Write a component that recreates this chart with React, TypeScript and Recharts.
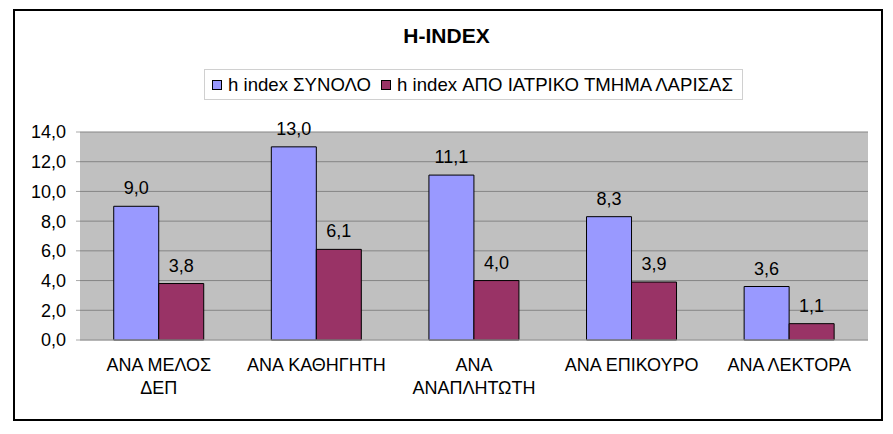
import React from 'react';
import { BarChart, Bar, XAxis, YAxis, CartesianGrid, Legend, LabelList } from 'recharts';

const categories = ['ΑΝΑ ΜΕΛΟΣ\nΔΕΠ', 'ΑΝΑ ΚΑΘΗΓΗΤΗ', 'ΑΝΑ\nΑΝΑΠΛΗΤΩΤΗ', 'ΑΝΑ ΕΠΙΚΟΥΡΟ', 'ΑΝΑ ΛΕΚΤΟΡΑ'];
const totalValues = [9.0, 13.0, 11.1, 8.3, 3.6];
const larisaValues = [3.8, 6.1, 4.0, 3.9, 1.1];
const yTicks = [0, 2, 4, 6, 8, 10, 12, 14];

const seriesNames = ['h index ΣΥΝΟΛΟ', 'h index ΑΠΟ ΙΑΤΡΙΚΟ ΤΜΗΜΑ ΛΑΡΙΣΑΣ'];
const colors = ['#9999FF', '#993366'];

const FONT = 'Arial, "Liberation Sans", sans-serif';

const data = categories.map((name, i) => ({
  name,
  total: totalValues[i],
  larisa: larisaValues[i],
}));

const fmt = (v: any) => Number(v).toFixed(1).replace('.', ',');

const CategoryTick = (props: any) => {
  const { x, y, payload } = props;
  const lines = String(payload.value).split('\n');
  return (
    <text x={x} y={y} textAnchor="middle" fontFamily={FONT} fontSize={18} fill="#000">
      {lines.map((line: string, i: number) => (
        <tspan key={i} x={x} dy={23}>
          {line}
        </tspan>
      ))}
    </text>
  );
};

const LegendBox = () => (
  <div
    style={{
      border: '1px solid #d0d0d0',
      height: 31,
      display: 'flex',
      alignItems: 'center',
      paddingLeft: 7,
      fontFamily: FONT,
      fontSize: 18.6,
      color: '#000',
      boxSizing: 'border-box',
      whiteSpace: 'nowrap',
    }}
  >
    {seriesNames.map((n, i) => (
      <span key={n} style={{ display: 'flex', alignItems: 'center', marginRight: 10 }}>
        <span
          style={{
            display: 'inline-block',
            width: 8,
            height: 8,
            background: colors[i],
            border: '1px solid #000',
            marginRight: 6,
          }}
        />
        {n}
      </span>
    ))}
  </div>
);

export default function App() {
  return (
    <div style={{ position: 'absolute', left: 0, top: 0, width: 893, height: 434, background: '#fff' }}>
      <div
        style={{
          position: 'absolute',
          left: 13,
          top: 9,
          width: 866,
          height: 408,
          border: '2px solid #000',
        }}
      />
      <div
        style={{
          position: 'absolute',
          left: 0,
          top: 24,
          width: 893,
          textAlign: 'center',
          fontFamily: FONT,
          fontWeight: 'bold',
          fontSize: 21,
        }}
      >
        H-INDEX
      </div>
      <div style={{ position: 'absolute', left: 0, top: 0 }}>
        <BarChart
          width={893}
          height={434}
          data={data}
          margin={{ top: 132, right: 25, left: 0, bottom: 0 }}
          barCategoryGap="21.4%"
          barGap={0}
        >
          <CartesianGrid vertical={false} fill="#C0C0C0" stroke="#858585" strokeWidth={1} />
          <XAxis
            dataKey="name"
            interval={0}
            tick={<CategoryTick />}
            tickLine={false}
            axisLine={{ stroke: '#aaaaaa' }}
            height={94}
          />
          <YAxis
            width={80}
            domain={[0, 14]}
            ticks={yTicks}
            interval={0}
            tickFormatter={fmt}
            tick={{ fontFamily: FONT, fontSize: 18, fill: '#000' }}
            tickLine={{ stroke: '#aaaaaa' }}
            tickSize={4}
            tickMargin={10}
            axisLine={false}
          />
          <Legend
            verticalAlign="middle"
            align="center"
            layout="horizontal"
            width={539}
            wrapperStyle={{ top: 69, left: 204, width: 539 }}
            content={<LegendBox />}
          />
          <Bar dataKey="total" name={seriesNames[0]} fill={colors[0]} stroke="#000" strokeWidth={1} isAnimationActive={false}>
            <LabelList dataKey="total" position="top" offset={12} formatter={fmt} style={{ fontFamily: FONT, fontSize: 18, fill: '#000' }} />
          </Bar>
          <Bar dataKey="larisa" name={seriesNames[1]} fill={colors[1]} stroke="#000" strokeWidth={1} isAnimationActive={false}>
            <LabelList dataKey="larisa" position="top" offset={12} formatter={fmt} style={{ fontFamily: FONT, fontSize: 18, fill: '#000' }} />
          </Bar>
        </BarChart>
      </div>
    </div>
  );
}
